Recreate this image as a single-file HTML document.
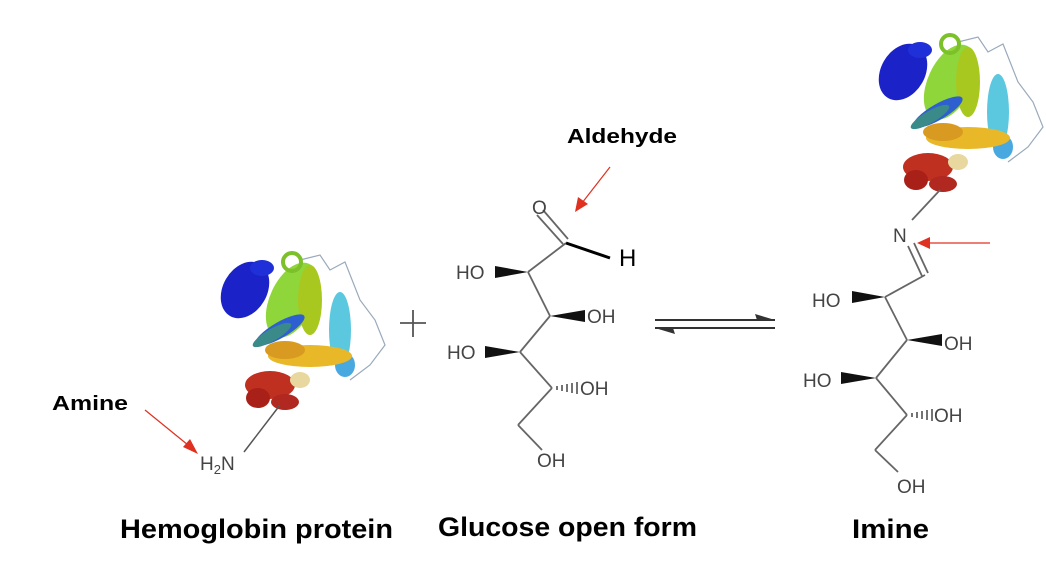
<!DOCTYPE html>
<html><head><style>
html,body{margin:0;padding:0;background:#fff;width:1046px;height:574px;overflow:hidden}
svg{display:block}
.c{font-family:"Liberation Sans",Arial,sans-serif;fill:#444;font-size:19px}
.b{font-family:"Liberation Sans",Arial,sans-serif;font-weight:bold;fill:#000}
</style></head><body>
<svg width="1046" height="574" viewBox="0 0 1046 574" xmlns="http://www.w3.org/2000/svg">
<defs>
<g id="prot">
  <path d="M300 260 L320 255 L330 270 L345 262 L360 300 L375 320 L385 345 L370 365 L350 380" fill="none" stroke="#9ab" stroke-width="1.2"/>
  <ellipse cx="245" cy="290" rx="22" ry="30" fill="#1a22c8" transform="rotate(30 245 290)"/>
  <ellipse cx="262" cy="268" rx="12" ry="8" fill="#2030d8"/>
  <ellipse cx="292" cy="300" rx="22" ry="40" fill="#8fd63a" transform="rotate(25 292 300)"/>
  <circle cx="292" cy="262" r="9" fill="none" stroke="#7cc02a" stroke-width="4"/>
  <ellipse cx="310" cy="300" rx="12" ry="35" fill="#a8c820"/>
  <ellipse cx="280" cy="330" rx="28" ry="8" fill="#2d5fd0" transform="rotate(-30 280 330)"/>
  <ellipse cx="272" cy="335" rx="22" ry="6" fill="#3a8a8a" transform="rotate(-30 272 335)"/>
  <ellipse cx="340" cy="330" rx="11" ry="38" fill="#5cc8e0"/>
  <ellipse cx="345" cy="365" rx="10" ry="12" fill="#48a8e0"/>
  <ellipse cx="310" cy="356" rx="42" ry="11" fill="#e8b828"/>
  <ellipse cx="285" cy="350" rx="20" ry="9" fill="#d89a20"/>
  <ellipse cx="270" cy="385" rx="25" ry="14" fill="#c03020"/>
  <ellipse cx="258" cy="398" rx="12" ry="10" fill="#a82018"/>
  <ellipse cx="285" cy="402" rx="14" ry="8" fill="#b02820"/>
  <ellipse cx="300" cy="380" rx="10" ry="8" fill="#e8d8a0"/>
</g>
</defs>

<use href="#prot"/>
<line x1="280" y1="405" x2="244" y2="452" stroke="#555" stroke-width="1.5"/>
<text x="200" y="470" class="c">H<tspan font-size="13" dy="4">2</tspan><tspan dy="-4">N</tspan></text>
<text x="52" y="410" class="b" font-size="20" textLength="76" lengthAdjust="spacingAndGlyphs">Amine</text>
<line x1="145" y1="410" x2="188" y2="445" stroke="#e03020" stroke-width="1.2"/>
<polygon points="198,454 183,447 190,439" fill="#e03020"/>

<line x1="400" y1="323" x2="426" y2="323" stroke="#555" stroke-width="1.8"/>
<line x1="413" y1="310" x2="413" y2="337" stroke="#555" stroke-width="1.8"/>

<g stroke="#666" stroke-width="1.8" fill="none">
  <line x1="537" y1="215" x2="563" y2="244"/><line x1="543" y1="210" x2="568" y2="239"/>
  <line x1="566" y1="243" x2="528" y2="272"/>
  <line x1="528" y1="272" x2="550" y2="316"/>
  <line x1="550" y1="316" x2="520" y2="352"/>
  <line x1="520" y1="352" x2="552" y2="388"/>
  <line x1="552" y1="388" x2="518" y2="425"/>
  <line x1="518" y1="425" x2="542" y2="450"/>
</g>
<line x1="566" y1="243" x2="610" y2="258" stroke="#000" stroke-width="3"/>
<polygon points="528,272 495,266 495,278" fill="#111"/>
<polygon points="550,316 585,310 585,322" fill="#111"/>
<polygon points="520,352 485,346 485,358" fill="#111"/>
<g stroke="#444" stroke-width="1.5">
  <line x1="557" y1="386" x2="557" y2="390"/><line x1="562" y1="385" x2="562" y2="391"/>
  <line x1="567" y1="384" x2="567" y2="392"/><line x1="572" y1="383" x2="572" y2="393"/>
  <line x1="577" y1="382" x2="577" y2="394"/>
</g>
<text x="532" y="214" class="c">O</text>
<text x="619" y="266" class="b" style="font-weight:normal" font-size="24">H</text>
<text x="456" y="279" class="c">HO</text>
<text x="587" y="323" class="c">OH</text>
<text x="447" y="359" class="c">HO</text>
<text x="580" y="395" class="c">OH</text>
<text x="537" y="467" class="c">OH</text>
<text x="567" y="143" class="b" font-size="20" textLength="110" lengthAdjust="spacingAndGlyphs">Aldehyde</text>
<line x1="610" y1="167" x2="582" y2="203" stroke="#e03020" stroke-width="1.2"/>
<polygon points="575,212 578,197 588,204" fill="#e03020"/>

<line x1="655" y1="320" x2="775" y2="320" stroke="#333" stroke-width="2"/>
<polygon points="775,320 755,314 757,320" fill="#333"/>
<line x1="655" y1="328" x2="775" y2="328" stroke="#333" stroke-width="2"/>
<polygon points="655,328 675,334 673,328" fill="#333"/>

<use href="#prot" transform="translate(658,-218)"/>
<g stroke="#666" stroke-width="1.8" fill="none">
  <line x1="940" y1="190" x2="912" y2="220"/>
  <line x1="908" y1="246" x2="922" y2="276"/><line x1="914" y1="243" x2="928" y2="273"/>
  <line x1="925" y1="275" x2="885" y2="297"/>
  <line x1="885" y1="297" x2="907" y2="340"/>
  <line x1="907" y1="340" x2="876" y2="378"/>
  <line x1="876" y1="378" x2="907" y2="415"/>
  <line x1="907" y1="415" x2="875" y2="450"/>
  <line x1="875" y1="450" x2="898" y2="472"/>
</g>
<polygon points="885,297 852,291 852,303" fill="#111"/>
<polygon points="907,340 942,334 942,346" fill="#111"/>
<polygon points="876,378 841,372 841,384" fill="#111"/>
<g stroke="#444" stroke-width="1.5">
  <line x1="912" y1="413" x2="912" y2="417"/><line x1="917" y1="412" x2="917" y2="418"/>
  <line x1="922" y1="411" x2="922" y2="419"/><line x1="927" y1="410" x2="927" y2="420"/>
  <line x1="932" y1="409" x2="932" y2="421"/>
</g>
<text x="893" y="242" class="c">N</text>
<text x="812" y="307" class="c">HO</text>
<text x="944" y="350" class="c">OH</text>
<text x="803" y="387" class="c">HO</text>
<text x="934" y="422" class="c">OH</text>
<text x="897" y="493" class="c">OH</text>
<line x1="990" y1="243" x2="928" y2="243" stroke="#e03020" stroke-width="1.2"/>
<polygon points="917,243 930,237 930,249" fill="#e03020"/>

<text x="120" y="538" class="b" font-size="27" textLength="273" lengthAdjust="spacingAndGlyphs">Hemoglobin protein</text>
<text x="438" y="536" class="b" font-size="27" textLength="259" lengthAdjust="spacingAndGlyphs">Glucose open form</text>
<text x="852" y="538" class="b" font-size="27" textLength="77" lengthAdjust="spacingAndGlyphs">Imine</text>
</svg>
</body></html>
